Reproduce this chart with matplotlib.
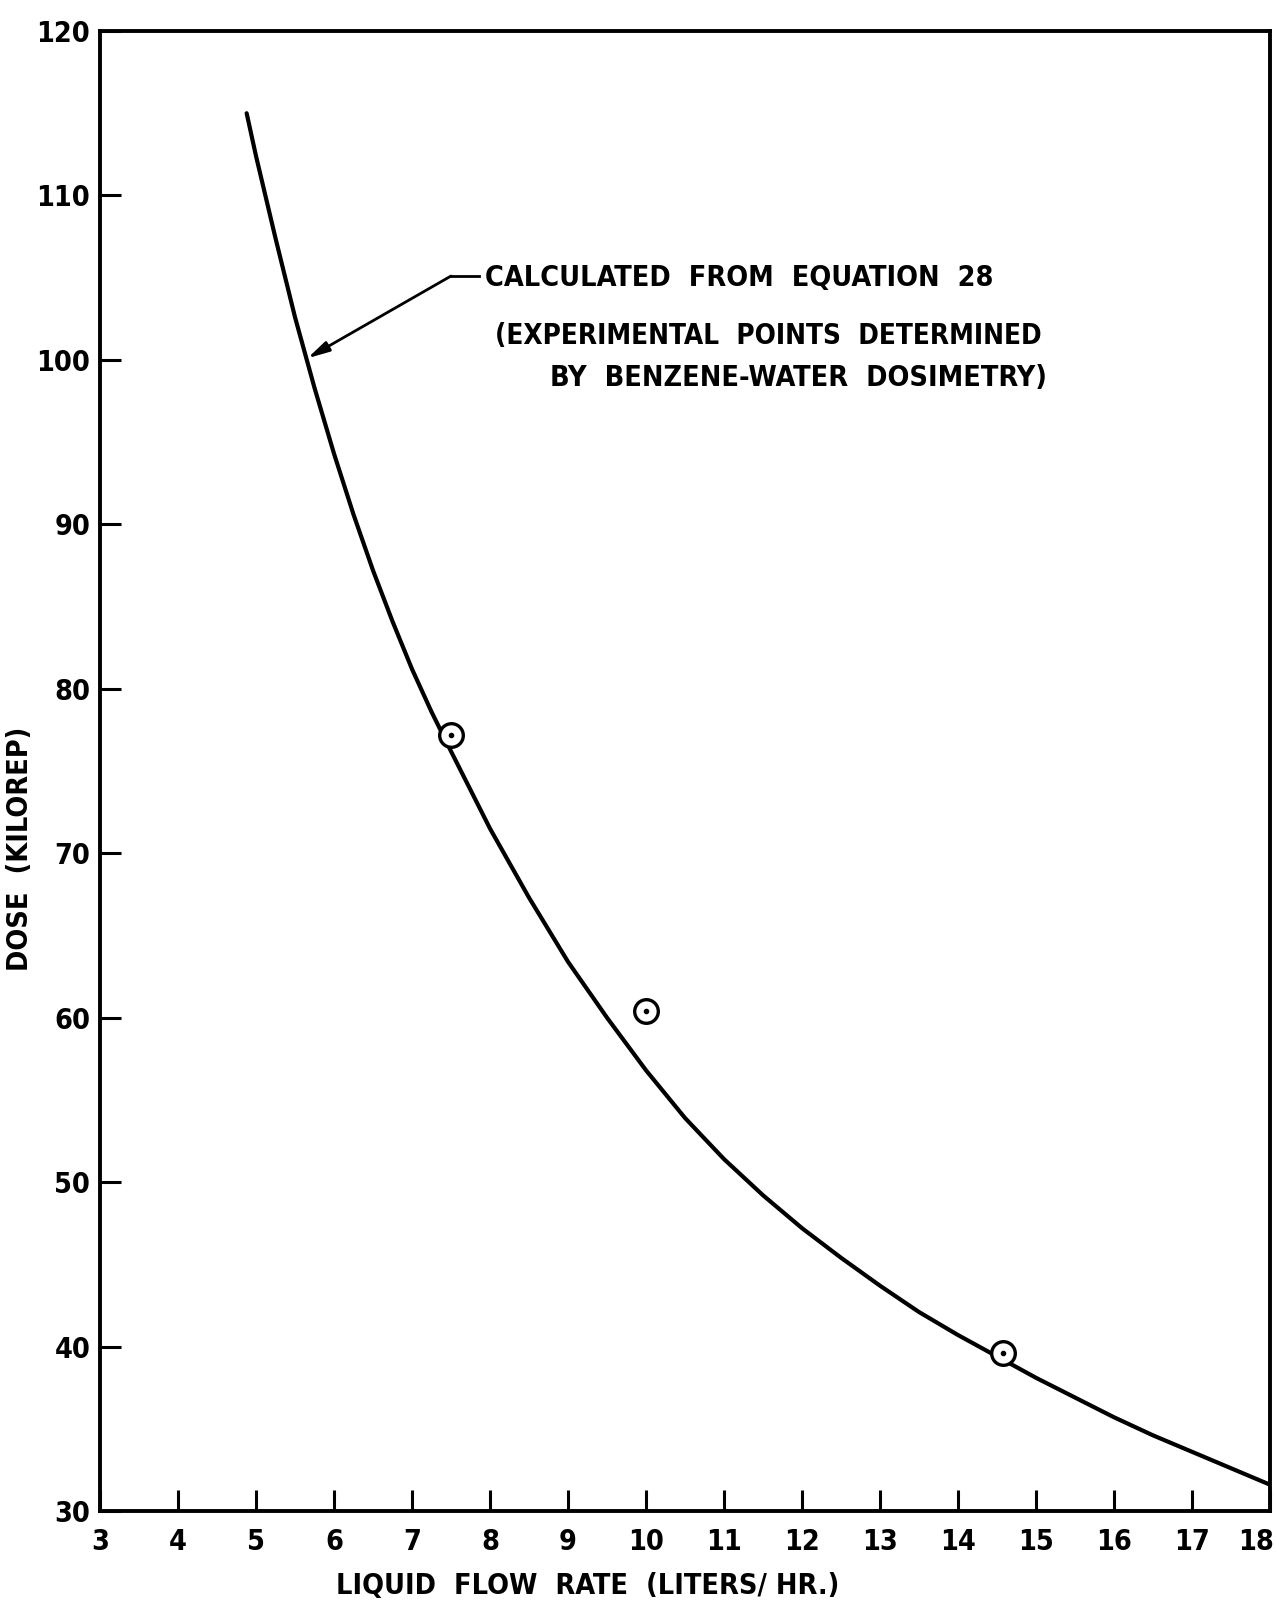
import matplotlib
matplotlib.use("Agg")
import matplotlib.pyplot as plt
from matplotlib import font_manager
from matplotlib.transforms import ScaledTranslation

# Pick a narrow bold face for the lettering when one is installed
fonts = font_manager.fontManager.ttflist
has_narrow = any(f.name == 'Liberation Sans Narrow' for f in fonts)
has_cond = any(f.name.startswith('DejaVu Sans') and f.stretch == 'condensed' for f in fonts)
if has_narrow:
    FAMILY, STRETCH, SCALE = ['Liberation Sans Narrow', 'DejaVu Sans'], 'normal', 1.12
elif has_cond:
    FAMILY, STRETCH, SCALE = ['DejaVu Sans'], 'condensed', 1.03
else:
    FAMILY, STRETCH, SCALE = ['DejaVu Sans'], 'normal', 0.93
plt.rcParams['font.family'] = FAMILY
plt.rcParams['font.stretch'] = STRETCH
plt.rcParams['font.weight'] = 'bold'

# Calculated dose curve (equation 28)
flow_calc = [4.88, 5.0, 5.25, 5.5, 5.75, 6.0, 6.25, 6.5, 6.75, 7.0, 7.25, 7.5,
             8.0, 8.5, 9.0, 9.5, 10.0, 10.5, 11.0, 11.5, 12.0, 12.5, 13.0, 13.5,
             14.0, 14.5, 15.0, 15.5, 16.0, 16.5, 17.0, 17.5, 18.0]
dose_calc = [115.0, 112.4, 107.4, 102.6, 98.3, 94.3, 90.6, 87.2, 84.1, 81.2, 78.6,
             76.2, 71.5, 67.3, 63.4, 60.0, 56.8, 53.9, 51.4, 49.2, 47.2, 45.4,
             43.7, 42.1, 40.7, 39.4, 38.1, 36.9, 35.7, 34.6, 33.6, 32.6, 31.6]

# Experimental points (benzene-water dosimetry)
flow_exp = [7.5, 10.0, 14.58]
dose_exp = [77.2, 60.4, 39.6]

x_ticks = list(range(3, 19))
y_ticks = list(range(30, 121, 10))

W, H = 1276, 1605
fig = plt.figure(figsize=(W / 100, H / 100), dpi=100)
ax = fig.add_axes([100 / W, 94 / H, 1170 / W, 1480 / H])

ax.plot(flow_calc, dose_calc, color='black', lw=3.0, solid_joinstyle='round',
        solid_capstyle='round', zorder=3)
ax.plot(flow_exp, dose_exp, 'o', ms=17, mfc='white', mec='black', mew=2.4, zorder=4)
ax.plot(flow_exp, dose_exp, 'o', ms=3, color='black', zorder=5)

ax.set_xlim(3, 18)
ax.set_ylim(30, 120)
ax.set_xticks(x_ticks)
ax.set_yticks(y_ticks)
ax.set_xticklabels([str(v) for v in x_ticks])
ax.set_yticklabels([str(v) for v in y_ticks])
tick_fs = 20 * SCALE
ax.tick_params(direction='in', length=15, width=2.2, labelsize=tick_fs, color='black')
ax.tick_params(axis='x', pad=12)
ax.tick_params(axis='y', pad=7)
for s in ax.spines.values():
    s.set_linewidth(2.8)

# keep the last flow label inside the frame
last = ax.get_xticklabels()[-1]
last.set_transform(last.get_transform() + ScaledTranslation(-14 / 100, 0, fig.dpi_scale_trans))

# Leader line and arrow to the curve
ax.plot([7.5, 7.86], [105.1, 105.1], color='black', lw=2.0)
ax.annotate('', xy=(5.66, 100.1), xytext=(7.5, 105.1),
            arrowprops=dict(arrowstyle='-|>,head_length=1.3,head_width=0.32',
                            color='black', lw=2.0, shrinkA=0, shrinkB=0))

note_fs = 20 * SCALE
ax.text(7.93, 104.98, 'CALCULATED  FROM  EQUATION  28', fontsize=note_fs,
        va='center', ha='left')
ax.text(8.06, 101.45, '(EXPERIMENTAL  POINTS  DETERMINED', fontsize=note_fs * 0.97,
        va='center', ha='left')
ax.text(8.77, 98.9, 'BY  BENZENE-WATER  DOSIMETRY)', fontsize=note_fs,
        va='center', ha='left')

fig.text(588 / W, 1 - 1586 / H, 'LIQUID  FLOW  RATE  (LITERS/ HR.)',
         fontsize=20 * SCALE, ha='center', va='center')
fig.text(20 / W, 1 - 849 / H, 'DOSE  (KILOREP)', fontsize=20 * SCALE,
         ha='center', va='center', rotation=90)

fig.savefig('out.png', dpi=100, facecolor='white')
